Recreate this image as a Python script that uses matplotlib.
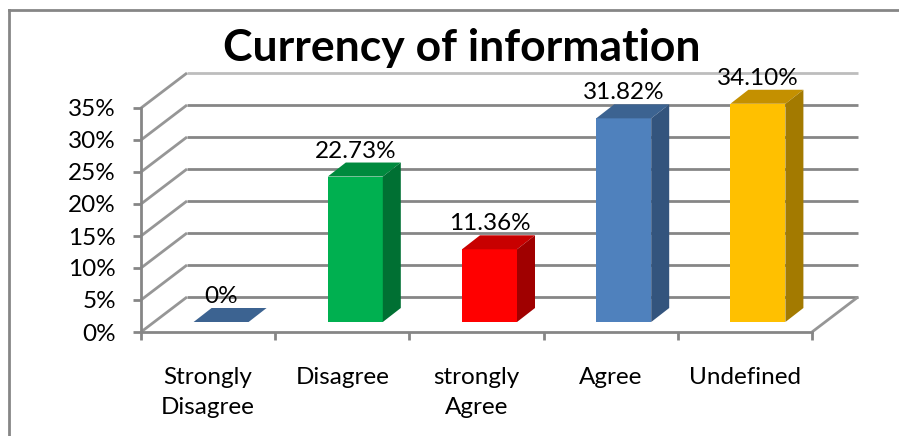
import matplotlib
matplotlib.use("Agg")
import matplotlib.pyplot as plt
from matplotlib.lines import Line2D
from matplotlib.patches import Polygon

plt.rcParams['font.family'] = ['Lato', 'DejaVu Sans']

categories = ["Strongly\nDisagree", "Disagree", "strongly\nAgree", "Agree", "Undefined"]
values = [0, 22.73, 11.36, 31.82, 34.10]
value_labels = ["0%", "22.73%", "11.36%", "31.82%", "34.10%"]
y_ticks = [0, 5, 10, 15, 20, 25, 30, 35]

front_colors = ["#4F81BD", "#00B050", "#FF0000", "#4F81BD", "#FFC000"]
top_colors = ["#3C6391", "#008A3E", "#C80000", "#3C6391", "#C49000"]
side_colors = ["#33547D", "#007033", "#A00000", "#33547D", "#A37A00"]

W, H = 899, 436
GRAY = "#868686"
LABEL_SIZE = 17.5

fig = plt.figure(figsize=(W / 100, H / 100), dpi=100)
ax = fig.add_axes([141 / W, 1 - 332 / H, 671 / W, 224 / H])
ax.set_xlim(0, 5)
ax.set_ylim(0, 35)
ax.patch.set_visible(False)

# pixel sizes turned into data units for the fake 3d depth
px_x = 5 / 671
px_y = 35 / 224
wall_dx, wall_dy = 46 * px_x, 35 * px_y
gap_dx, gap_dy = 13 * px_x, 10 * px_y
bar_dx, bar_dy = 18 * px_x, 14 * px_y
bar_w = 55 * px_x

# back wall and floor
for t in y_ticks:
    c = "#BDBDBD" if t == 35 else GRAY
    ax.add_line(Line2D([wall_dx, 5 + wall_dx], [t + wall_dy, t + wall_dy], color=c, lw=2,
                       solid_capstyle="butt", clip_on=False, zorder=1))
    ax.add_line(Line2D([0, wall_dx], [t, t + wall_dy], color="#969696", lw=2,
                       solid_capstyle="butt", clip_on=False, zorder=1))
ax.add_line(Line2D([5, 5 + wall_dx], [0, wall_dy], color="#969696", lw=2,
                   solid_capstyle="butt", clip_on=False, zorder=1))

# bars
lefts = [i + 0.5 + gap_dx - bar_w / 2 for i in range(len(values))]
ax.bar(lefts, values, width=bar_w, bottom=gap_dy, align="edge", color=front_colors, zorder=3, clip_on=False)
for i, v in enumerate(values):
    l, r, b, t = lefts[i], lefts[i] + bar_w, gap_dy, gap_dy + v
    ax.add_patch(Polygon([(l, t), (r, t), (r + bar_dx, t + bar_dy), (l + bar_dx, t + bar_dy)],
                         closed=True, fc=top_colors[i], ec="none", zorder=3, clip_on=False))
    ax.add_patch(Polygon([(r, b), (r + bar_dx, b + bar_dy), (r + bar_dx, t + bar_dy), (r, t)],
                         closed=True, fc=side_colors[i], ec="none", zorder=3, clip_on=False))
    ax.text(l + bar_w / 2, t + bar_dy + 5 * px_y, value_labels[i], ha="center", va="baseline",
            fontsize=LABEL_SIZE, color="black", zorder=4, clip_on=False)

ax.spines["top"].set_visible(False)
ax.spines["right"].set_visible(False)
ax.spines["left"].set_color(GRAY)
ax.spines["bottom"].set_color(GRAY)
ax.spines["left"].set_linewidth(2)
ax.spines["bottom"].set_linewidth(2)

ax.set_yticks(y_ticks)
ax.set_yticklabels([f"{t}%" for t in y_ticks], fontsize=LABEL_SIZE)
ax.set_xticks(range(6))
ax.set_xticklabels([])
ax.tick_params(axis="y", length=6, width=2, color=GRAY, pad=12)
ax.tick_params(axis="x", length=6, width=2, color=GRAY)

for i, name in enumerate(categories):
    ax.text(i + 0.5, -34.5 * px_y, name, ha="center", va="top", fontsize=LABEL_SIZE, linespacing=1.55, clip_on=False)

fig.text(462 / W, 1 - 61 / H, "Currency of information", ha="center", va="baseline",
         fontsize=32, fontweight="bold", color="black")

# chart frame, the bottom and right sides run off the picture
fig.add_artist(Line2D([9 / W, 9 / W], [0, 1 - 10 / H], color=GRAY, lw=2))
fig.add_artist(Line2D([9 / W, 1], [1 - 10 / H, 1 - 10 / H], color=GRAY, lw=2))

fig.savefig("out.png", dpi=100)
